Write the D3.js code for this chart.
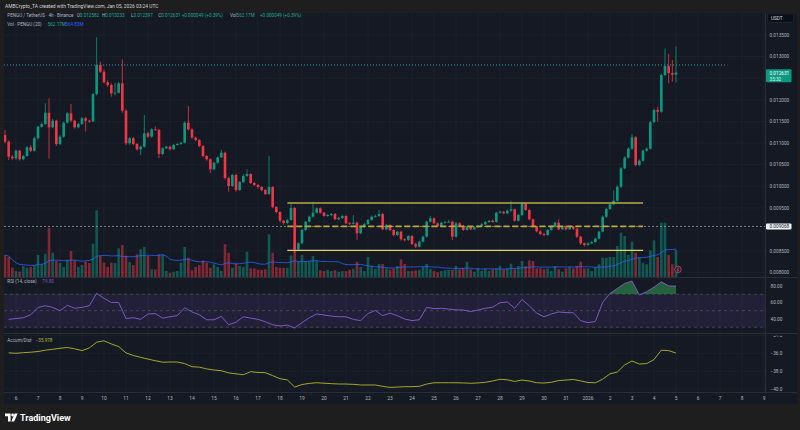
<!DOCTYPE html>
<html>
<head>
<meta charset="utf-8">
<script src="https://cdn.jsdelivr.net/npm/d3@7"></script>
<style>
  html, body { margin: 0; padding: 0; background: #1e1e1e; }
  svg { display: block; font-family: Roboto, "Noto Sans", sans-serif; }
</style>
</head>
<body>
<div id="chart"></div>
<script>
const firstBar = Date.UTC(2025, 11, 5, 12); // first visible candle
const H4 = 4 * 3600 * 1000;
const firstOpen = 0.011185;

const close = [
  0.011030,0.010683,0.010646,0.010822,0.010623,0.010699,0.010900,0.010822,0.011109,0.011377,
  0.011440,0.011701,0.011363,0.011516,0.010977,0.011146,0.011470,0.011687,0.011516,0.011363,
  0.011440,0.011572,0.011516,0.011502,0.012134,0.012806,0.012650,0.012405,0.012343,0.012150,
  0.012164,0.012382,0.011748,0.010993,0.011109,0.010977,0.010854,0.010914,0.011225,0.011146,
  0.011317,0.011301,0.010745,0.010877,0.010914,0.010854,0.010954,0.010977,0.011007,0.011470,
  0.011317,0.011123,0.011069,0.010931,0.010699,0.010623,0.010391,0.010544,0.010669,0.010775,
  0.010190,0.010005,0.010259,0.009912,0.010097,0.010236,0.010282,0.010074,0.010028,0.009982,
  0.009912,0.009819,0.009982,0.009519,0.009403,0.009201,0.009148,0.009218,0.009495,0.008539,
  0.008678,0.008986,0.009178,0.009294,0.009387,0.009488,0.009387,0.009310,0.009333,0.009356,
  0.009234,0.009264,0.009310,0.009141,0.009130,0.009155,0.008910,0.009056,0.009125,0.009218,
  0.009294,0.009310,0.009356,0.009002,0.009102,0.008986,0.008870,0.008947,0.008771,0.008755,
  0.008847,0.008662,0.008600,0.008715,0.008831,0.009178,0.009257,0.009141,0.009079,0.009155,
  0.009171,0.009178,0.008831,0.009141,0.009079,0.008986,0.009063,0.009002,0.009049,0.009079,
  0.009118,0.009171,0.009201,0.009171,0.009387,0.009410,0.009373,0.009433,0.009465,0.009201,
  0.009333,0.009604,0.009449,0.009234,0.009063,0.008956,0.008894,0.008870,0.008986,0.009063,
  0.009155,0.009002,0.009063,0.009002,0.009063,0.009016,0.008831,0.008678,0.008639,0.008678,
  0.008708,0.008785,0.008947,0.009294,0.009472,0.009581,0.009664,0.009988,0.010414,0.010660,
  0.010868,0.011132,0.010491,0.010590,0.010822,0.010868,0.011479,0.011764,0.011725,0.012574,
  0.012782,0.012620,0.012582,0.012631
];

const high = [
  0.011300,0.011060,0.010720,0.010850,0.010840,0.010730,0.010930,0.010950,0.011140,0.011400,
  0.011480,0.011919,0.012035,0.011560,0.011540,0.011180,0.011500,0.011720,0.011903,0.011540,
  0.011470,0.011600,0.011600,0.011540,0.012160,0.013447,0.012882,0.012700,0.012450,0.012380,
  0.012400,0.012420,0.012938,0.011780,0.011140,0.011140,0.011000,0.010940,0.011648,0.011260,
  0.011340,0.011380,0.011330,0.010900,0.010940,0.010940,0.010980,0.011000,0.011030,0.011500,
  0.011856,0.011340,0.011150,0.011090,0.010950,0.010720,0.010650,0.010570,0.010690,0.010841,
  0.010800,0.010220,0.010290,0.010290,0.010120,0.010280,0.010391,0.010300,0.010100,0.010050,
  0.010000,0.009940,0.010699,0.010000,0.009540,0.009420,0.009220,0.009240,0.009604,0.009520,
  0.008700,0.009010,0.009200,0.009320,0.009641,0.009510,0.009510,0.009400,0.009360,0.009380,
  0.009380,0.009290,0.009340,0.009330,0.009170,0.009333,0.009180,0.009080,0.009150,0.009240,
  0.009320,0.009340,0.009449,0.009380,0.009130,0.009120,0.009000,0.008970,0.008970,0.008800,
  0.008870,0.008870,0.008690,0.008740,0.008860,0.009200,0.009310,0.009280,0.009160,0.009180,
  0.009200,0.009220,0.009200,0.009170,0.009170,0.009100,0.009090,0.009080,0.009070,0.009100,
  0.009140,0.009190,0.009220,0.009230,0.009410,0.009440,0.009430,0.009460,0.009664,0.009480,
  0.009360,0.009641,0.009620,0.009470,0.009250,0.009080,0.008980,0.008920,0.009010,0.009090,
  0.009180,0.009234,0.009090,0.009090,0.009090,0.009080,0.009040,0.008850,0.008700,0.008700,
  0.008730,0.008810,0.008970,0.009320,0.009500,0.009610,0.009896,0.010020,0.010440,0.010690,
  0.010900,0.011208,0.011160,0.010620,0.010850,0.010900,0.011510,0.011800,0.011840,0.012610,
  0.013190,0.013060,0.012921,0.013233
];

const low = [
  0.010990,0.010606,0.010600,0.010610,0.010590,0.010600,0.010680,0.010790,0.010800,0.011080,
  0.011350,0.011420,0.010640,0.011340,0.010930,0.010950,0.011120,0.011450,0.011480,0.011330,
  0.011340,0.011420,0.011262,0.011470,0.011480,0.012100,0.012620,0.012380,0.012300,0.012072,
  0.012100,0.012140,0.011700,0.010950,0.010960,0.010950,0.010820,0.010722,0.010890,0.011120,
  0.011120,0.011280,0.010650,0.010720,0.010860,0.010830,0.010840,0.010940,0.010960,0.010990,
  0.011290,0.011100,0.011040,0.010900,0.010670,0.010590,0.010306,0.010370,0.010520,0.010650,
  0.010150,0.009873,0.009980,0.009870,0.009890,0.010070,0.010210,0.010050,0.010000,0.009950,
  0.009880,0.009790,0.009800,0.009490,0.009370,0.009170,0.009110,0.009120,0.009200,0.008454,
  0.008500,0.008660,0.008960,0.009160,0.009270,0.009370,0.009360,0.009290,0.009290,0.009310,
  0.009210,0.009210,0.009240,0.009120,0.009100,0.009110,0.008755,0.008890,0.009030,0.009100,
  0.009200,0.009270,0.009290,0.008980,0.008980,0.008960,0.008840,0.008850,0.008740,0.008720,
  0.008730,0.008640,0.008570,0.008580,0.008700,0.008810,0.009160,0.009120,0.009050,0.009060,
  0.009130,0.009150,0.008755,0.008810,0.009060,0.008960,0.008970,0.008980,0.008990,0.009030,
  0.009060,0.009100,0.009150,0.009150,0.009150,0.009370,0.009350,0.009350,0.009410,0.009180,
  0.009180,0.009310,0.009430,0.009210,0.009040,0.008930,0.008870,0.008840,0.008850,0.008970,
  0.009040,0.008980,0.008980,0.008980,0.008990,0.008990,0.008800,0.008640,0.008600,0.008620,
  0.008660,0.008690,0.008770,0.008930,0.009270,0.009450,0.009560,0.009640,0.009960,0.010390,
  0.010640,0.010840,0.010460,0.010460,0.010570,0.010800,0.010850,0.011460,0.011493,0.011700,
  0.012550,0.012382,0.012420,0.012397
];

// volume, millions of PENGU
const volume = [
  458,416,193,125,110,229,193,208,250,458, 270,485,1025,505,333,297,208,360,541,347,
  208,250,318,291,693,1387,443,297,208,297, 291,597,666,443,312,250,472,576,624,437,
  160,160,472,472,125,90,110,125,297,624, 401,139,208,250,347,297,193,264,208,125,
  680,505,193,277,229,208,526,180,180,150, 150,160,888,505,208,190,190,190,450,690,
  333,458,333,333,437,333,139,125,150,125, 139,110,125,125,150,170,318,208,125,416,
  229,170,270,270,180,150,170,229,368,270, 125,125,139,150,208,270,170,125,100,125,
  139,150,150,229,160,180,318,160,110,190, 125,180,125,160,180,229,160,180,277,180,
  229,333,229,347,333,180,180,160,180,125, 229,160,110,180,208,180,229,318,180,180,
  125,208,264,401,401,416,416,645,922,853, 458,735,505,401,297,264,555,763,416,1130,
  1130,458,264,562
];

// RSI(14) read at bars 1, 3, 5 ... 183
const rsiOdd = [
  39.5,40.5,41.5,45,54,56,54,50,56.5,53,
  54,56,71,65,60,60,40.5,41.5,39.5,46,
  46.5,41,42.7,44,53.5,48.5,45,39,39,43,
  33,36,42.7,41,39.5,36.5,33,31.5,32.5,29,
  35.5,41.5,46,44.8,43.5,42.7,42.7,39.5,38,46.5,
  50.3,44,47,44,40,38,39,54.1,52.5,52.9,
  52,51,50.8,49,50.8,53,54.3,59.7,60.5,53,
  63.5,56,47,42.7,46,48.5,47.6,47.6,38,35.5,
  37,60,71,77,83,86,69,73,78.5,85,
  80,79.8
];

// Accumulation/Distribution (millions) read at bars 1, 3, 5 ... 183
const adOdd = [
  -35.95,-36.0,-35.93,-35.88,-35.8,-35.65,-35.55,-35.44,-35.35,-35.5,
  -35.7,-35.4,-34.75,-34.6,-34.95,-35.25,-35.95,-36.25,-36.45,-36.65,
  -36.83,-37.0,-36.98,-36.98,-37.15,-37.5,-37.55,-37.75,-37.87,-37.95,
  -38.2,-38.3,-38.4,-38.06,-38.15,-38.17,-38.5,-38.85,-38.98,-39.78,
  -39.5,-39.37,-39.3,-39.35,-39.4,-39.44,-39.44,-39.48,-39.55,-39.55,
  -39.55,-39.7,-39.82,-39.78,-39.74,-39.74,-39.7,-39.45,-39.3,-39.3,
  -39.3,-39.3,-39.32,-39.36,-39.32,-39.25,-39.1,-38.91,-38.97,-39.15,
  -39.0,-39.1,-39.3,-39.33,-39.25,-39.05,-39.0,-38.93,-39.1,-39.27,
  -39.3,-38.9,-38.3,-38.1,-37.3,-36.86,-37.2,-37.15,-36.7,-35.65,
  -35.7,-35.978
];

const priceTicks = [0.0080,0.0085,0.0090,0.0095,0.0100,0.0105,0.0110,0.0115,0.0120,0.0125,0.0130,0.0135];
const rsiTicks = [40, 60, 80];
const rsiBands = [30, 50, 70];
const adTicks = [-40, -38, -36, -34];

// drawn levels
const rangeTop = 0.009611, rangeMid = 0.009068, rangeBot = 0.008516;
const rangeFrom = Date.UTC(2025, 11, 18, 8), rangeTo = Date.UTC(2026, 0, 3, 12);
const dottedLevel = 0.012806, dottedTo = Date.UTC(2026, 0, 7, 8);
const lastPrice = 0.012631;

// ---- layout ----
const W = 800, H = 430;
const plotL = 4, plotR = 765, frameR = 797;
const mainTop = 13, mainBot = 277, rsiTop = 278, rsiBot = 333, adTop = 334, adBot = 392, frameBot = 404;

const GREEN = "#089981", RED = "#f23645", GRID = "#1e222d", SEP = "#2a2e39", TXT = "#b2b5be";
const FS = 4.7; // small UI text

const x = d3.scaleUtc().domain([Date.UTC(2025, 11, 6), Date.UTC(2026, 0, 9)]).range([16, 764]);
const y = d3.scaleLinear().domain([0.0080, 0.0135]).range([272.6, 35]);
const yVol = d3.scaleLinear().domain([0, 1400]).range([mainBot, mainBot - 67.3]);
const yRsi = d3.scaleLinear().domain([30, 70]).range([327.2, 294.2]);
const yAd = d3.scaleLinear().domain([-40, -36]).range([389, 353.3]);

const bars = close.map((c, i) => ({
  t: new Date(firstBar + i * H4),
  o: i ? close[i - 1] : firstOpen, h: high[i], l: low[i], c, v: volume[i]
}));
const volMA = volume.map((v, i) => d3.mean(volume.slice(Math.max(0, i - 19), i + 1)));
const rsi = rsiOdd.map((v, k) => ({ t: new Date(firstBar + (2 * k + 1) * H4), v }));
const ad = adOdd.map((v, k) => ({ t: new Date(firstBar + (2 * k + 1) * H4), v }));

const svg = d3.select("#chart").append("svg").attr("width", W).attr("height", H);
const defs = svg.append("defs");
function clip(id, x0, y0, x1, y1) {
  defs.append("clipPath").attr("id", id).append("rect")
    .attr("x", x0).attr("y", y0).attr("width", x1 - x0).attr("height", y1 - y0);
}
clip("cMain", plotL, mainTop, plotR, mainBot);
clip("cRsi", plotL, rsiTop, plotR, rsiBot);
clip("cAd", plotL, adTop, plotR, adBot);
clip("cOver", plotL, rsiTop, plotR, yRsi(70));
clip("cUnder", plotL, yRsi(30), plotR, rsiBot);
clip("cAdAxis", plotR, adTop + 1.8, frameR, adBot);

svg.append("rect").attr("width", W).attr("height", H).attr("fill", "#1e1e1e");
svg.append("rect").attr("x", plotL).attr("y", mainTop)
  .attr("width", frameR - plotL).attr("height", frameBot - mainTop).attr("fill", "#151924");

// header
svg.append("text").attr("x", 5).attr("y", 8.4).attr("font-size", 4.9).attr("fill", "#d1d4dc")
  .text("AMBCrypto_TA created with TradingView.com, Jan 05, 2026 03:24 UTC");

// ---- grid ----
const days = d3.utcDay.range(Date.UTC(2025, 11, 6), Date.UTC(2026, 0, 10));
const grid = svg.append("g").attr("stroke", GRID).attr("stroke-width", 0.8);
grid.selectAll(".vg").data(days).join("line")
  .attr("x1", d => x(d)).attr("x2", d => x(d)).attr("y1", mainTop).attr("y2", adBot);
grid.selectAll(".hg").data(priceTicks).join("line")
  .attr("x1", plotL).attr("x2", plotR).attr("y1", d => y(d)).attr("y2", d => y(d));
grid.selectAll(".ag").data(adTicks.filter(d => yAd(d) > adTop)).join("line")
  .attr("x1", plotL).attr("x2", plotR).attr("y1", d => yAd(d)).attr("y2", d => yAd(d));

// ---- main pane ----
const main = svg.append("g").attr("clip-path", "url(#cMain)");

main.selectAll(".vol").data(bars).join("rect")
  .attr("x", d => x(d.t) - 1.3).attr("width", 2.6)
  .attr("y", d => yVol(d.v)).attr("height", d => mainBot - yVol(d.v))
  .attr("fill", d => d.c >= d.o ? GREEN : RED).attr("fill-opacity", 0.5);

main.append("path").datum(volMA)
  .attr("fill", "none").attr("stroke", "#2962ff").attr("stroke-width", 0.9).attr("stroke-opacity", 0.85)
  .attr("d", d3.line().x((d, i) => x(bars[i].t)).y(d => yVol(d)));

// grey horizontal line with label
main.append("line").attr("x1", plotL).attr("x2", plotR)
  .attr("y1", y(rangeMid)).attr("y2", y(rangeMid))
  .attr("stroke", "#9598a1").attr("stroke-width", 0.8).attr("stroke-dasharray", "2,2");

// cyan dotted level
main.append("line").attr("x1", plotL).attr("x2", x(dottedTo))
  .attr("y1", y(dottedLevel)).attr("y2", y(dottedLevel))
  .attr("stroke", "#3d9fc6").attr("stroke-width", 0.9).attr("stroke-dasharray", "1,2");

// candles
const cg = main.append("g");
cg.selectAll(".wick").data(bars).join("line")
  .attr("x1", d => x(d.t)).attr("x2", d => x(d.t))
  .attr("y1", d => y(d.h)).attr("y2", d => y(d.l))
  .attr("stroke", d => d.c >= d.o ? GREEN : RED).attr("stroke-width", 0.8);
cg.selectAll(".body").data(bars).join("rect")
  .attr("x", d => x(d.t) - 1.3).attr("width", 2.6)
  .attr("y", d => y(Math.max(d.o, d.c)))
  .attr("height", d => Math.max(0.8, Math.abs(y(d.o) - y(d.c))))
  .attr("fill", d => d.c >= d.o ? GREEN : RED);

// consolidation range drawing
const rl = main.append("g");
rl.append("line").attr("x1", x(rangeFrom)).attr("x2", x(rangeTo))
  .attr("y1", y(rangeTop)).attr("y2", y(rangeTop)).attr("stroke", "#b3ab42").attr("stroke-width", 1.6);
rl.append("line").attr("x1", x(rangeFrom)).attr("x2", x(rangeTo))
  .attr("y1", y(rangeBot)).attr("y2", y(rangeBot)).attr("stroke", "#e2d65e").attr("stroke-width", 1.3);
rl.append("line").attr("x1", x(rangeFrom)).attr("x2", x(rangeTo))
  .attr("y1", y(rangeMid)).attr("y2", y(rangeMid)).attr("stroke", "#b9a63e")
  .attr("stroke-width", 1.8).attr("stroke-dasharray", "6,3");

// small events badge
svg.append("circle").attr("cx", 678).attr("cy", 269.5).attr("r", 3.3)
  .attr("fill", "#2b1f33").attr("stroke", "#c2456a").attr("stroke-width", 0.8);
svg.append("path").attr("d", "M678.8,267.3 L677,270 L678.6,270 L677.4,272")
  .attr("fill", "none").attr("stroke", "#e0607e").attr("stroke-width", 0.6);

// ---- RSI pane ----
const rg = svg.append("g").attr("clip-path", "url(#cRsi)");
rg.append("rect").attr("x", plotL).attr("width", plotR - plotL)
  .attr("y", yRsi(70)).attr("height", yRsi(30) - yRsi(70))
  .attr("fill", "#7e57c2").attr("fill-opacity", 0.13);
rg.selectAll(".band").data(rsiBands).join("line")
  .attr("x1", plotL).attr("x2", plotR).attr("y1", d => yRsi(d)).attr("y2", d => yRsi(d))
  .attr("stroke", "#787b86").attr("stroke-opacity", 0.6).attr("stroke-width", 0.7).attr("stroke-dasharray", "3,3");
rg.append("path").datum(rsi).attr("clip-path", "url(#cOver)")
  .attr("fill", "#2f9e4f").attr("fill-opacity", 0.55)
  .attr("d", d3.area().x(d => x(d.t)).y0(yRsi(70)).y1(d => yRsi(d.v)));
rg.append("path").datum(rsi).attr("clip-path", "url(#cUnder)")
  .attr("fill", "#c2334a").attr("fill-opacity", 0.5)
  .attr("d", d3.area().x(d => x(d.t)).y0(yRsi(30)).y1(d => yRsi(d.v)));
rg.append("path").datum(rsi).attr("fill", "none").attr("stroke", "#7e57c2").attr("stroke-width", 1)
  .attr("d", d3.line().x(d => x(d.t)).y(d => yRsi(d.v)));

// ---- Accum/Dist pane ----
svg.append("g").attr("clip-path", "url(#cAd)").append("path").datum(ad)
  .attr("fill", "none").attr("stroke", "#a6a52a").attr("stroke-width", 1)
  .attr("d", d3.line().x(d => x(d.t)).y(d => yAd(d.v)));

// ---- separators ----
const sep = svg.append("g").attr("stroke", SEP).attr("stroke-width", 1);
[mainBot + 0.5, rsiBot + 0.5, adBot + 0.5].forEach(v =>
  sep.append("line").attr("x1", plotL).attr("x2", frameR).attr("y1", v).attr("y2", v));
sep.append("line").attr("x1", plotR + 0.5).attr("x2", plotR + 0.5).attr("y1", mainTop).attr("y2", adBot);

// ---- price axis ----
const fmt6 = d3.format(".6f");
const axisX = 769.5;
const busy = [y(lastPrice) + 2.5, y(rangeMid)];
svg.append("g").selectAll("text")
  .data(priceTicks.filter(p => busy.every(b => Math.abs(y(p) - b) > 7)))
  .join("text").attr("x", axisX).attr("y", d => y(d) + 1.7).attr("font-size", FS).attr("fill", TXT)
  .text(d => fmt6(d));

svg.append("rect").attr("x", 767.5).attr("y", 14).attr("width", 26).attr("height", 8.5)
  .attr("fill", "#0c0e15").attr("stroke", "#2a2e39").attr("stroke-width", 0.6).attr("rx", 1);
svg.append("text").attr("x", 771).attr("y", 19.9).attr("font-size", FS).attr("fill", "#d1d4dc").text("USDT");

svg.append("rect").attr("x", 766).attr("y", 69.3).attr("width", 25.5).attr("height", 13)
  .attr("fill", GREEN).attr("rx", 1);
svg.append("text").attr("x", axisX).attr("y", 74.8).attr("font-size", FS).attr("fill", "#ffffff").text(fmt6(lastPrice));
svg.append("text").attr("x", axisX).attr("y", 80.6).attr("font-size", FS).attr("fill", "#e8f5f2").text("35:32");

svg.append("rect").attr("x", 766).attr("y", y(rangeMid) - 3).attr("width", 25.5).attr("height", 6)
  .attr("fill", "#f0f3fa").attr("rx", 1);
svg.append("text").attr("x", axisX).attr("y", y(rangeMid) + 1.7).attr("font-size", FS).attr("fill", "#131722")
  .text(fmt6(rangeMid));

svg.append("g").selectAll("text").data(rsiTicks).join("text")
  .attr("x", axisX + 1).attr("y", d => yRsi(d) + 1.7).attr("font-size", FS).attr("fill", TXT)
  .text(d => d3.format(".2f")(d));

svg.append("g").attr("clip-path", "url(#cAdAxis)").selectAll("text").data(adTicks).join("text")
  .attr("x", axisX + 1).attr("y", d => yAd(d) + 1.7).attr("font-size", FS).attr("fill", TXT)
  .text(d => d3.format(".1f")(d).replace("-", "\u2212"));

// ---- time axis ----
svg.append("g").selectAll("text").data(days).join("text")
  .attr("x", d => x(d)).attr("y", 399.5).attr("text-anchor", "middle")
  .attr("font-size", 4.9).attr("fill", TXT)
  .text(d => d.getUTCDate() === 1 ? String(d.getUTCFullYear()) : d.getUTCDate());

// ---- legends ----
const leg = svg.append("g").attr("font-size", 4.6);
const l1 = leg.append("text").attr("y", 17.2).attr("fill", TXT);
l1.append("tspan").attr("x", 7.3).text("PENGU / TetherUS \u00b7 4h \u00b7 Binance");
[["O", 0.012582, 76.7], ["H", 0.013233, 102], ["L", 0.012397, 131], ["C", 0.012631, 158.3]].forEach(([k, v, px]) => {
  l1.append("tspan").attr("x", px).attr("fill", TXT).text(k);
  l1.append("tspan").attr("fill", "#22ab94").text(fmt6(v));
});
l1.append("tspan").attr("x", 181.7).attr("fill", "#22ab94").text("+0.000049 (+0.39%)");
l1.append("tspan").attr("x", 230).attr("fill", TXT).text("Vol");
l1.append("tspan").attr("fill", "#22ab94").text("562.17M");
l1.append("tspan").attr("x", 260).attr("fill", "#22ab94").text("+0.000049 (+0.39%)");

const l2 = leg.append("text").attr("y", 25.6).attr("fill", TXT);
l2.append("tspan").attr("x", 7.3).text("Vol \u00b7 PENGU (20)");
l2.append("tspan").attr("x", 47.7).attr("fill", "#22ab94").text("562.17M");
l2.append("tspan").attr("x", 65.3).attr("fill", "#2962ff").text("564.83M");

const l3 = leg.append("text").attr("y", 283.4).attr("fill", TXT);
l3.append("tspan").attr("x", 7.3).text("RSI (14, close)");
l3.append("tspan").attr("x", 42.3).attr("fill", "#7e57c2").text(d3.format(".2f")(rsiOdd[rsiOdd.length - 1]));

const l4 = leg.append("text").attr("y", 342.4).attr("fill", TXT);
l4.append("tspan").attr("x", 7.3).text("Accum/Dist");
l4.append("tspan").attr("x", 35.7).attr("fill", "#b5b42e").text(d3.format(".3f")(adOdd[adOdd.length - 1]).replace("-", "\u2212"));

// ---- footer logo ----
const logo = svg.append("g").attr("fill", "#ffffff");
logo.append("path").attr("d", "M5,413.6 H10.6 V421.4 H8 V416.2 H5 Z");
logo.append("circle").attr("cx", 12.6).attr("cy", 415).attr("r", 1.4);
logo.append("path").attr("d", "M14.6,413.6 H17.6 L14.2,421.4 H11.3 Z");
svg.append("text").attr("x", 20).attr("y", 420.8).attr("font-size", 9).attr("font-weight", 700)
  .attr("fill", "#ffffff").text("TradingView");
</script>
</body>
</html>
